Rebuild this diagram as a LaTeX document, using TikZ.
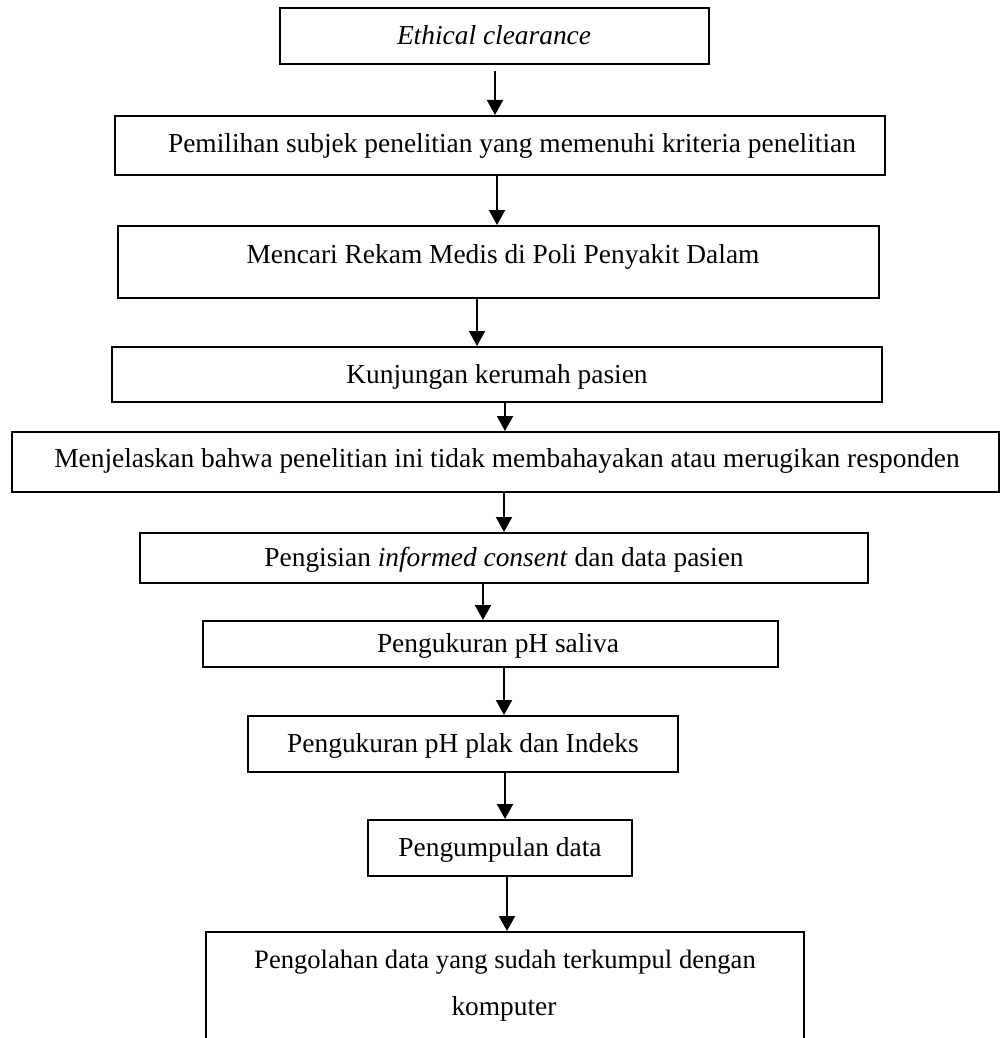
\documentclass[tikz,border=0pt]{standalone}
\usepackage{fontspec}
\setmainfont{Liberation Serif}
\usetikzlibrary{arrows.meta}
\begin{document}
\begin{tikzpicture}[x=0.5pt,y=-0.5pt,
  box/.style={draw=black,line width=1pt,inner sep=0pt},
  lbl/.style={anchor=base,inner sep=0pt,font=\fontsize{13.7pt}{16pt}\selectfont},
  arr/.style={line width=1pt,-{Triangle[width=8pt,length=7.5pt]}}]
\useasboundingbox (0,0) rectangle (1000,1038);
\clip (0,0) rectangle (1000,1038);
% boxes
\node[box,minimum width=214.5pt,minimum height=28pt] (b1) at (494.5,36) {};
\node[box,minimum width=385pt,minimum height=29.5pt] (b2) at (500,145.5) {};
\node[box,minimum width=380.5pt,minimum height=36pt] (b3) at (498.5,262) {};
\node[box,minimum width=385pt,minimum height=27.5pt] (b4) at (497,374.5) {};
\node[box,minimum width=493.5pt,minimum height=30pt] (b5) at (505.5,462) {};
\node[box,minimum width=364pt,minimum height=25pt] (b6) at (504,558) {};
\node[box,minimum width=287.5pt,minimum height=23pt] (b7) at (490.5,644) {};
\node[box,minimum width=215pt,minimum height=28pt] (b8) at (463,744) {};
\node[box,minimum width=132pt,minimum height=28pt] (b9) at (500,848) {};
\node[box,minimum width=299pt,minimum height=74pt] (b10) at (505,1006) {};
% texts
\node[lbl] (t1) at (494,45) {\itshape Ethical clearance};
\node[lbl] (t2) at (512,152) {Pemilihan subjek penelitian yang memenuhi kriteria penelitian};
\node[lbl] (t3) at (503,263) {Mencari Rekam Medis di Poli Penyakit Dalam};
\node[lbl] (t4) at (497,383) {Kunjungan kerumah pasien};
\node[lbl] (t5) at (507,467) {Menjelaskan bahwa penelitian ini tidak membahayakan atau merugikan responden};
\node[lbl] (t6) at (504,566) {Pengisian \textit{informed consent} dan data pasien};
\node[lbl] (t7) at (498,652) {Pengukuran pH saliva};
\node[lbl] (t8) at (463,752) {Pengukuran pH plak dan Indeks};
\node[lbl] (t9) at (500,856) {Pengumpulan data};
\node[lbl,font=\fontsize{13.3pt}{16pt}\selectfont] (t10a) at (505,968) {Pengolahan data yang sudah terkumpul dengan};
\node[lbl] (t10b) at (504,1015) {komputer};
% arrows
\draw[arr] ([yshift=-3pt]b1.south -| 495,0) -- (b2.north -| 495,0);
\draw[arr] (b2.south -| 497,0) -- (b3.north -| 497,0);
\draw[arr] (b3.south -| 477,0) -- (b4.north -| 477,0);
\draw[arr] (b4.south -| 505,0) -- (b5.north -| 505,0);
\draw[arr] (b5.south -| 504,0) -- (b6.north -| 504,0);
\draw[arr] (b6.south -| 483,0) -- (b7.north -| 483,0);
\draw[arr] (b7.south -| 504,0) -- (b8.north -| 504,0);
\draw[arr] (b8.south -| 505,0) -- (b9.north -| 505,0);
\draw[arr] (b9.south -| 507,0) -- (b10.north -| 507,0);
\end{tikzpicture}
\end{document}
